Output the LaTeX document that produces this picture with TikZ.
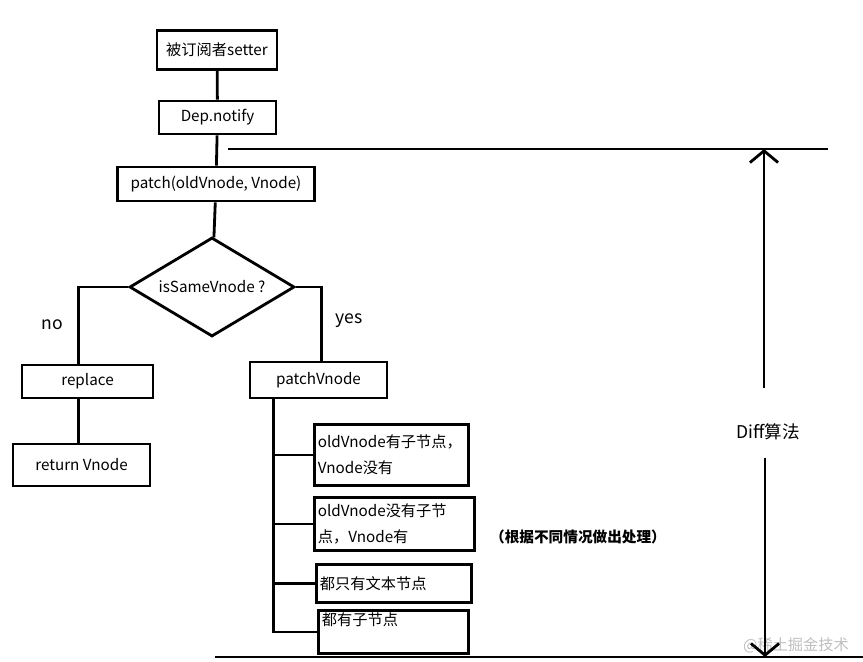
\documentclass[tikz,border=0pt]{standalone}
\usepackage{fontspec}
\setmainfont{Noto Sans CJK SC}
\usetikzlibrary{shapes.geometric,arrows.meta}
\tikzset{
  box/.style={draw, rectangle, line width=2.4pt, inner sep=2pt},
  casebox/.style={box, anchor=north west, align=left, inner xsep=3pt},
  link/.style={line width=2.4pt},
  dim/.style={line width=2.4pt, -{Straight Barb[length=10pt,width=24pt,line width=2.4pt]}},
}
\begin{document}
\begin{tikzpicture}[x=0.03cm, y=-0.03cm, font=\fontsize{13}{22}\selectfont]
      \useasboundingbox (0,0) rectangle (863,661);
      \node[box, minimum width=3.6cm, minimum height=1.17cm] (setter) at (217,50) {被订阅者setter};
      \node[box, minimum width=3.51cm, minimum height=0.99cm] (dep) at (217.5,117.5) {Dep.notify};
      \node[box, minimum width=5.91cm, minimum height=1.02cm] (patch) at (216,184) {patch(oldVnode, Vnode)};
      \node[draw, diamond, line width=2.4pt, aspect=1.67, inner sep=0pt,
            minimum width=4.95cm, minimum height=2.97cm] (same) at (212,287) {isSameVnode ?};
      \node[box, minimum width=3.93cm, minimum height=0.99cm] (replace) at (87.5,381.5) {replace};
      \node[box, minimum width=4.11cm, minimum height=1.26cm] (ret) at (81.5,465) {return Vnode};
      \node[box, minimum width=4.11cm, minimum height=1.08cm] (pv) at (318.5,380) {patchVnode};
      \node[casebox, text width=4.4cm, minimum height=1.83cm] (c1) at (313,423) {oldVnode有子节点，\\Vnode没有};
      \node[casebox, text width=4.58cm, minimum height=1.59cm] (c2) at (313,496) {oldVnode没有子节\\点，Vnode有};
      \node[casebox, text width=4.43cm, minimum height=1.14cm] (c3) at (315,563) {都只有文本节点};
      \node[casebox, text width=4.28cm, minimum height=1.17cm] (c4) at (317,609) {都有子节点\\~};
      \node[font=\fontsize{15}{18}\selectfont] (no) at (52,325) {no};
      \node[font=\fontsize{15}{18}\selectfont] (yes) at (349,321) {yes};
      \node[font=\fontsize{12.5}{15}\selectfont\bfseries] (note) at (578,537) {（根据不同情况做出处理）};
      \node[font=\fontsize{15}{18}\selectfont] (diff) at (768,432) {Diff算法};
      \node[font=\fontsize{13}{15}\selectfont, text=black!25] (mark) at (796,645) {@稀土掘金技术};
      \coordinate (topL) at (228,149);
      \coordinate (topR) at (828,149);
      \coordinate (botL) at (215,657);
      \coordinate (botR) at (863,657);
      \coordinate (upStart) at (764,388);
      \coordinate (downStart) at (765,458);
      \coordinate (trunk) at ([xshift=0.75cm]pv.south west);
      \begin{scope}[link]
        \draw (setter) -- (dep);
        \draw (dep) -- (patch);
        \draw (patch) -- (same);
        \draw (same.west) -| ([xshift=-0.28cm]replace.north);
        \draw ([xshift=-0.28cm]replace.south) -- ([xshift=-0.28cm]replace.south |- ret.north);
        \draw (same.east) -| ([xshift=0.1cm]pv.north);
        \draw (trunk) |- (c4.west);
        \draw (trunk |- c1.west) -- (c1.west);
        \draw (trunk |- c2.west) -- (c2.west);
        \draw (trunk |- c3.west) -- (c3.west);
        \draw (topL) -- (topR);
        \draw (botL) -- (botR);
      \end{scope}
      \draw[dim] (upStart) -- (upStart |- topL);
      \draw[dim] (downStart) -- (downStart |- botL);
    \end{tikzpicture}
\end{document}
